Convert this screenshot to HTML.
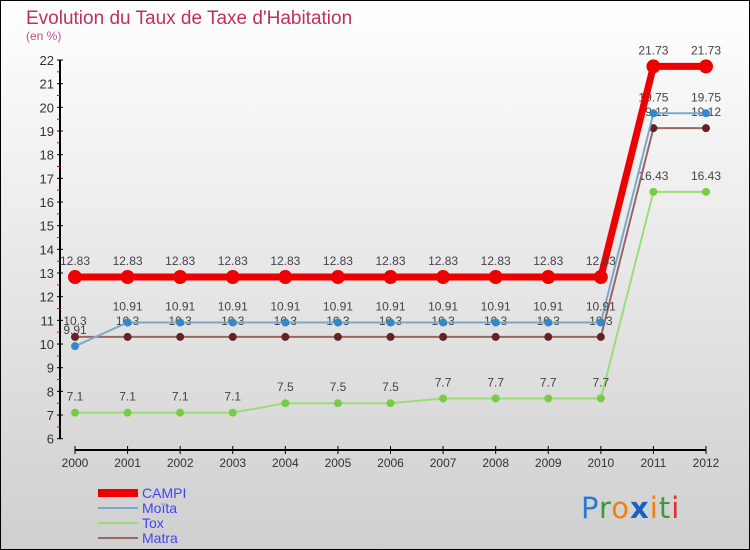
<!DOCTYPE html>
<html><head><meta charset="utf-8"><style>
body{margin:0}
svg{display:block;font-family:"Liberation Sans",sans-serif}
</style></head><body>
<svg id="c" width="750" height="550">
<defs><linearGradient id="bg" x1="0" y1="0" x2="0" y2="1"><stop offset="0" stop-color="#ffffff"/><stop offset="1" stop-color="#cfcfcf"/></linearGradient></defs>
<rect x="0.5" y="0.5" width="749" height="549" fill="url(#bg)" stroke="#000"/>
<text x="26" y="24" font-size="19" fill="#c0305f">Evolution du Taux de Taxe d'Habitation</text>
<text x="26" y="40" font-size="12" fill="#c0508a">(en %)</text>
<g id="axes"></g><g id="series"></g>
<g>
<rect x="98" y="489" width="40" height="8" fill="#e00"/>
<text x="142" y="498" font-size="14" fill="#4444ee">CAMPI</text>
<line x1="98" y1="508" x2="138" y2="508" stroke="#7aa8cc" stroke-width="2"/>
<text x="142" y="513" font-size="14" fill="#4444ee">Moïta</text>
<line x1="98" y1="523" x2="138" y2="523" stroke="#99dd77" stroke-width="2"/>
<text x="142" y="528" font-size="14" fill="#4444ee">Tox</text>
<line x1="98" y1="538" x2="138" y2="538" stroke="#996666" stroke-width="2"/>
<text x="142" y="543" font-size="14" fill="#4444ee">Matra</text>
</g>
<text x="581" y="518" font-size="29" letter-spacing="1" font-family="'DejaVu Sans',sans-serif"><tspan fill="#2a7ad0">P</tspan><tspan fill="#3a9a3a">r</tspan><tspan fill="#f08010">o</tspan><tspan fill="#1a60c0" font-weight="bold">x</tspan><tspan fill="#f08010">i</tspan><tspan fill="#3a9a3a">t</tspan><tspan fill="#e03030">i</tspan></text>
</svg>
<script>
const years=[2000,2001,2002,2003,2004,2005,2006,2007,2008,2009,2010,2011,2012];
const campi=[12.83,12.83,12.83,12.83,12.83,12.83,12.83,12.83,12.83,12.83,12.83,21.73,21.73];
const moita=[9.91,10.91,10.91,10.91,10.91,10.91,10.91,10.91,10.91,10.91,10.91,19.75,19.75];
const tox=[7.1,7.1,7.1,7.1,7.5,7.5,7.5,7.7,7.7,7.7,7.7,16.43,16.43];
const matra=[10.3,10.3,10.3,10.3,10.3,10.3,10.3,10.3,10.3,10.3,10.3,19.12,19.12];
const yTicks=[6,7,8,9,10,11,12,13,14,15,16,17,18,19,20,21,22];
const NS="http://www.w3.org/2000/svg";
const x=i=>75+i*(706-75)/(years.length-1);
const y=v=>60+(22-v)*(438.7-60)/16;
function mk(t,a,p){const e=document.createElementNS(NS,t);for(const k in a)e.setAttribute(k,a[k]);p.appendChild(e);return e;}
const ax=document.getElementById('axes');
let l=mk('line',{x1:60,y1:y(22),x2:60,y2:y(6),stroke:'#000','stroke-width':2},ax);


yTicks.forEach(v=>{
 mk('line',{x1:57,y1:y(v),x2:63,y2:y(v),stroke:'#000'},ax);
 if(v<22){mk('line',{x1:57,y1:y(v+0.5),x2:60,y2:y(v+0.5),stroke:'#e00'},ax);}
 const t=mk('text',{x:54,y:y(v)+5,'font-size':13,fill:'#333','text-anchor':'end'},ax);
 t.textContent=v;
 
 
});
l=mk('line',{x1:x(0),y1:450,x2:x(12),y2:450,stroke:'#000','stroke-width':2},ax);


years.forEach((yr,i)=>{
 mk('line',{x1:x(i),y1:446,x2:x(i),y2:454,stroke:'#000'},ax);
 const t=mk('text',{x:x(i),y:467,'font-size':12,fill:'#333','text-anchor':'middle'},ax);
 t.textContent=yr;
 
 
});
const sg=document.getElementById('series');
function series(name,vals,col,dot,w,r){
 const g=mk('g',{},sg);
 
 
 const p=mk('polyline',{points:vals.map((v,i)=>x(i)+','+y(v)).join(' '),fill:'none',stroke:col,'stroke-width':w},g);
 
 
 vals.forEach((v,i)=>{
  const c=mk('circle',{cx:x(i),cy:y(v),r:r,fill:dot},g);
  
  
  const t=mk('text',{x:x(i),y:y(v)-12,'font-size':12,fill:'#444','text-anchor':'middle'},g);
  t.textContent=v;
  
  
 });
}
series('tox',tox,'#99dd77','#77cc44',2,4);
series('matra',matra,'#996666','#662222',2,4);
series('moita',moita,'#7aa8cc','#3388cc',2,4);
series('campi',campi,'#ee0000','#ee0000',7,7);
</script>
</body></html>
